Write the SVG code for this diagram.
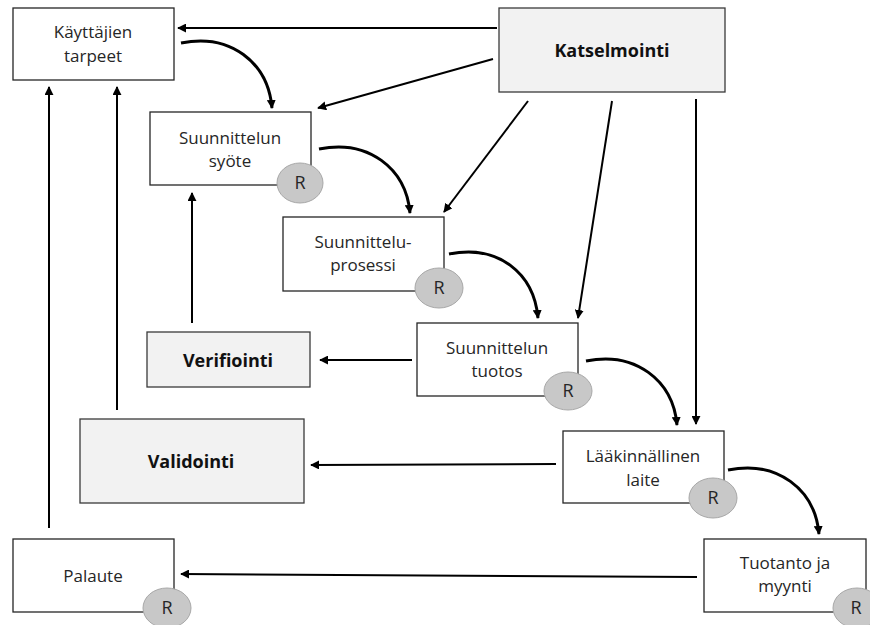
<svg xmlns="http://www.w3.org/2000/svg" width="870" height="625" viewBox="0 0 870 625">
  <defs>
    <style>
      .box { fill: #ffffff; stroke: #262626; stroke-width: 1.3; }
      .grey { fill: #f2f2f2; stroke: #3a3a3a; stroke-width: 1.3; }
      .lbl { font-family: "Open Sans", "Noto Sans", sans-serif; font-size: 17px; fill: #262626; text-anchor: middle; }
      .bold { font-family: "Open Sans", "Noto Sans", sans-serif; font-size: 18px; font-weight: bold; fill: #111111; text-anchor: middle; }
      .rev { fill: #c8c8c8; stroke: #a8a8a8; stroke-width: 1; }
      .rtxt { font-family: "Open Sans", "Noto Sans", sans-serif; font-size: 18px; fill: #262626; text-anchor: middle; }
      .line { fill: none; stroke: #000000; stroke-width: 2; marker-end: url(#head); }
      .curve { fill: none; stroke: #000000; stroke-width: 3; marker-end: url(#headc); }
    </style>
    <marker id="head" viewBox="0 0 10 10" refX="9" refY="5" markerWidth="4.5" markerHeight="4.5" orient="auto" markerUnits="strokeWidth">
      <path d="M0,0 L10,5 L0,10 z" fill="#000000"/>
    </marker>
    <marker id="headc" viewBox="0 0 10 10" refX="9" refY="5" markerWidth="3" markerHeight="3" orient="auto" markerUnits="strokeWidth">
      <path d="M0,0 L10,5 L0,10 z" fill="#000000"/>
    </marker>
  </defs>

  <!-- connectors -->
  <g id="connectors">
    <!-- review links -->
    <line class="line" x1="497" y1="28" x2="178" y2="28"/>
    <line class="line" x1="493" y1="59" x2="318" y2="108"/>
    <line class="line" x1="528" y1="101" x2="444" y2="212"/>
    <line class="line" x1="612" y1="101" x2="578" y2="318"/>
    <line class="line" x1="696" y1="99" x2="696" y2="424"/>
    <!-- verification / validation / feedback -->
    <line class="line" x1="412" y1="360" x2="320" y2="360"/>
    <line class="line" x1="192" y1="323" x2="192" y2="193"/>
    <line class="line" x1="556" y1="464" x2="311" y2="465"/>
    <line class="line" x1="117" y1="410" x2="117" y2="87"/>
    <line class="line" x1="697" y1="577" x2="181" y2="574"/>
    <line class="line" x1="49" y1="528" x2="49" y2="87"/>
    <!-- design flow -->
    <path class="curve" d="M181,43 C230,33 268,62 272,108"/>
    <path class="curve" d="M319,149 C368,139 406,168 410,213"/>
    <path class="curve" d="M449,254 C498,244 534,273 538,318"/>
    <path class="curve" d="M586,361 C635,351 673,380 677,425"/>
    <path class="curve" d="M728,470 C777,460 815,489 819,534"/>
  </g>

  <g id="kayttajien-tarpeet">
    <rect class="box" x="13" y="8" width="161" height="72"/>
    <text class="lbl" x="93" y="38">Käyttäjien</text>
    <text class="lbl" x="93" y="62">tarpeet</text>
  </g>

  <g id="katselmointi">
    <rect class="grey" x="499" y="8" width="226" height="84"/>
    <text class="bold" x="612" y="57">Katselmointi</text>
  </g>

  <g id="suunnittelun-syote">
    <rect class="box" x="150" y="112" width="161" height="73"/>
    <text class="lbl" x="230" y="144">Suunnittelun</text>
    <text class="lbl" x="230" y="167">syöte</text>
    <ellipse class="rev" cx="300" cy="183" rx="23" ry="20"/>
    <text class="rtxt" x="300" y="189">R</text>
  </g>

  <g id="suunnitteluprosessi">
    <rect class="box" x="283" y="217" width="161" height="74"/>
    <text class="lbl" x="363" y="248">Suunnittelu-</text>
    <text class="lbl" x="363" y="271">prosessi</text>
    <ellipse class="rev" cx="439" cy="288" rx="24" ry="20"/>
    <text class="rtxt" x="439" y="294">R</text>
  </g>

  <g id="verifiointi">
    <rect class="grey" x="147" y="332" width="163" height="55"/>
    <text class="bold" x="228" y="367">Verifiointi</text>
  </g>

  <g id="suunnittelun-tuotos">
    <rect class="box" x="417" y="323" width="161" height="73"/>
    <text class="lbl" x="497" y="354">Suunnittelun</text>
    <text class="lbl" x="497" y="377">tuotos</text>
    <ellipse class="rev" cx="568" cy="391" rx="24" ry="19"/>
    <text class="rtxt" x="568" y="397">R</text>
  </g>

  <g id="validointi">
    <rect class="grey" x="80" y="419" width="224" height="84"/>
    <text class="bold" x="191" y="468">Validointi</text>
  </g>

  <g id="laakinnallinen-laite">
    <rect class="box" x="563" y="431" width="161" height="72"/>
    <text class="lbl" x="643" y="462">Lääkinnällinen</text>
    <text class="lbl" x="643" y="486">laite</text>
    <ellipse class="rev" cx="713" cy="498" rx="24" ry="20"/>
    <text class="rtxt" x="713" y="504">R</text>
  </g>

  <g id="palaute">
    <rect class="box" x="13" y="539" width="161" height="73"/>
    <text class="lbl" x="93" y="582">Palaute</text>
    <ellipse class="rev" cx="167" cy="608" rx="24" ry="20"/>
    <text class="rtxt" x="167" y="614">R</text>
  </g>

  <g id="tuotanto-ja-myynti">
    <rect class="box" x="704" y="539" width="162" height="73"/>
    <text class="lbl" x="785" y="569">Tuotanto ja</text>
    <text class="lbl" x="785" y="592">myynti</text>
    <ellipse class="rev" cx="857" cy="608" rx="24" ry="20"/>
    <text class="rtxt" x="856" y="614">R</text>
  </g>
</svg>
